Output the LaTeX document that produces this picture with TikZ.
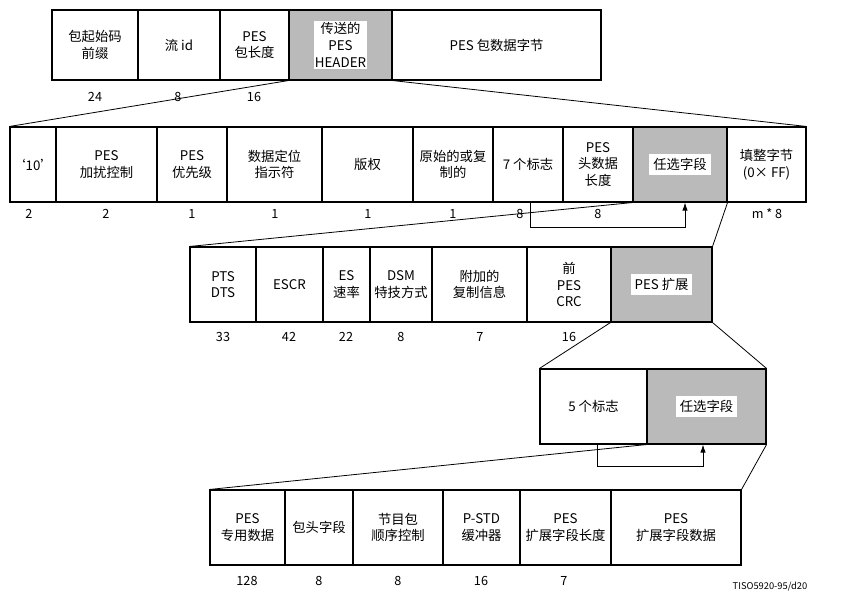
\documentclass[tikz,border=0pt]{standalone}
\usepackage{fontspec}
\setmainfont{Noto Sans CJK SC}
\usetikzlibrary{arrows.meta}
\newcommand{\cel}[7][]{%
  \node[cell,#1,minimum width={(#4-#3)*0.75pt},minimum height={(#6-#5)*0.75pt}] (#2) at ({(#3+#4)/2},{(#5+#6)/2}) {#7};}
\begin{document}
\begin{tikzpicture}[x=0.75pt,y=-0.75pt,
  cell/.style={draw,line width=0.8pt,inner sep=0pt,align=center,font=\fontsize{10}{12.5}\selectfont},
  gray/.style={fill=black!27},
  lab/.style={fill=white,inner sep=3pt,font=\fontsize{10}{12.5}\selectfont},
  num/.style={font=\fontsize{9.5}{11}\selectfont},
  zoom/.style={line width=0.6pt},
  loop/.style={line width=0.6pt,-{Latex[length=6pt,width=4pt]}}]
\useasboundingbox (0,0) rectangle (841,597);
% row 1
\cel{a1}{52}{138}{10}{80}{包起始码\\前缀}
\cel{a2}{138}{220}{10}{80}{流 id}
\cel{a3}{220}{289}{10}{80}{PES\\包长度}
\cel[gray]{a4}{289}{392}{10}{80}{}
\node[lab,inner sep=1pt,align=center] (a4l) at (a4) {传送的\\PES\\HEADER};
\cel{a5}{392}{601}{10}{80}{PES 包数据字节}
\node[num] (n1) at (95,97) {24};
\node[num] (n2) at (178,97) {8};
\node[num] (n3) at (254,97) {16};
% row 2
\cel{b1}{10}{56}{127}{202}{‘10’}
\cel{b2}{56}{157}{127}{202}{PES\\加扰控制}
\cel{b3}{157}{227}{127}{202}{PES\\优先级}
\cel{b4}{227}{322}{127}{202}{数据定位\\指示符}
\cel{b5}{322}{413}{127}{202}{版权}
\cel{b6}{413}{493}{127}{202}{原始的或复\\制的}
\cel{b7}{493}{563}{127}{202}{7 个标志}
\cel{b8}{563}{633}{127}{202}{PES\\头数据\\长度}
\cel[gray]{b9}{633}{727}{127}{202}{}
\node[lab] (b9l) at (b9) {任选字段};
\cel{b10}{727}{806}{127}{202}{填整字节\\(0× FF)}
\foreach \x/\t [count=\i] in {29/2,106/2,192/1,275/1,368/1,453/1,520/8,598/8,767/m * 8}
  \node[num] (nb\i) at (\x,214) {\t};
\draw[zoom] (a4.south west) -- (b1.north west);
\draw[zoom] (a4.south east) -- (b10.north east);
\coordinate (p1) at (530,227);
\coordinate (p2) at (685,227);
\draw[loop] (b7.south -| p1) -- (p1) -- (p2) -- (b9.south -| p2);
% row 3
\cel{c1}{190}{256}{247}{322}{PTS\\DTS}
\cel{c2}{256}{323}{247}{322}{ESCR}
\cel{c3}{323}{370}{247}{322}{ES\\速率}
\cel{c4}{370}{432}{247}{322}{DSM\\特技方式}
\cel{c5}{432}{527}{247}{322}{附加的\\复制信息}
\cel{c6}{527}{611}{247}{322}{前\\PES\\CRC}
\cel[gray]{c7}{611}{712}{247}{322}{}
\node[lab] (c7l) at (c7) {PES 扩展};
\foreach \x/\t [count=\i] in {223/33,289/42,346/22,401/8,480/7,569/16}
  \node[num] (nc\i) at (\x,337) {\t};
\draw[zoom] (b9.south west) -- (c1.north west);
\draw[zoom] (b9.south east) -- (c7.north east);
% row 4
\cel{d1}{540}{647}{369}{444}{5 个标志}
\cel[gray]{d2}{647}{766}{369}{444}{}
\node[lab] (d2l) at (d2) {任选字段};
\draw[zoom] (c7.south west) -- (d1.north west);
\draw[zoom] (c7.south east) -- (d2.north east);
\coordinate (q1) at (597,466);
\coordinate (q2) at (703,466);
\draw[loop] (d1.south -| q1) -- (q1) -- (q2) -- (d2.south -| q2);
% row 5
\cel{e1}{210}{285}{490}{565}{PES\\专用数据}
\cel{e2}{285}{353}{490}{565}{包头字段}
\cel{e3}{353}{443}{490}{565}{节目包\\顺序控制}
\cel{e4}{443}{520}{490}{565}{P-STD\\缓冲器}
\cel{e5}{520}{611}{490}{565}{PES\\扩展字段长度}
\cel{e6}{611}{741}{490}{565}{PES\\扩展字段数据}
\foreach \x/\t [count=\i] in {247/128,319/8,398/8,481/16,564/7}
  \node[num] (ne\i) at (\x,581) {\t};
\node[num,anchor=east,font=\fontsize{7}{8}\selectfont] (tiso) at (812,587) {TISO5920-95/d20};
\draw[zoom] (d2.south west) -- (e1.north west);
\draw[zoom] (d2.south east) -- (e6.north east);
\end{tikzpicture}
\end{document}
